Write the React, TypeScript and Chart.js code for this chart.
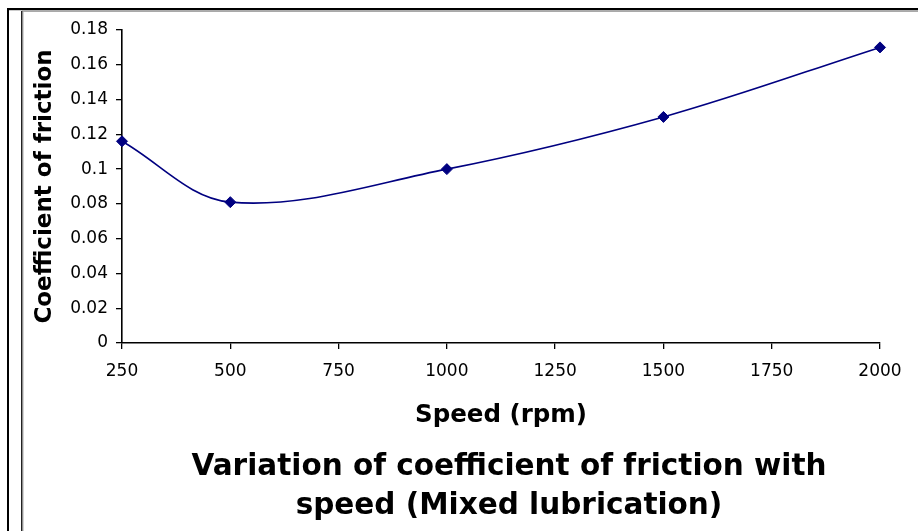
import React, { useEffect, useRef } from "react";
import { Chart, registerables } from "chart.js";

Chart.register(...registerables);

// ---- data ----
const speeds = [250, 500, 1000, 1500, 2000];
const frictionCoefficients = [0.116, 0.081, 0.1, 0.13, 0.17];
const xTickLabels = ["250", "500", "750", "1000", "1250", "1500", "1750", "2000"];
const yTickLabels = ["0", "0.02", "0.04", "0.06", "0.08", "0.1", "0.12", "0.14", "0.16", "0.18"];
const xAxisTitle = "Speed (rpm)";
const yAxisTitle = "Coefficient of friction";
const chartTitle = ["Variation of coefficient of friction with", "speed (Mixed lubrication)"];

const FONT = "'DejaVu Sans', sans-serif";
const NAVY = "#000080";

const framePlugin = {
  id: "frame",
  beforeDraw(chart: any) {
    const ctx = chart.ctx;
    const w = chart.width;
    const h = chart.height;
    ctx.save();
    ctx.fillStyle = "#000";
    ctx.fillRect(7, 8, w, 2.2);
    ctx.fillRect(7, 8, 2, h);
    ctx.fillStyle = "#a0a0a0";
    ctx.fillRect(22, 10.3, w, 1.6);
    ctx.fillStyle = "#222";
    ctx.fillRect(21, 11, 1.6, h);
    ctx.fillStyle = "#aaa";
    ctx.fillRect(22.6, 11, 0.9, h);
    ctx.restore();
  },
};

export default function App() {
  const canvasRef = useRef<HTMLCanvasElement | null>(null);

  useEffect(() => {
    if (!canvasRef.current) return;
    const chart = new Chart(canvasRef.current, {
      type: "line",
      data: {
        datasets: [
          {
            data: speeds.map((s, i) => ({ x: s, y: frictionCoefficients[i] })),
            borderColor: NAVY,
            backgroundColor: NAVY,
            borderWidth: 1.6,
            tension: 0.35,
            pointStyle: "rectRot",
            pointRadius: 5.5,
            pointBackgroundColor: NAVY,
            pointBorderColor: NAVY,
            pointBorderWidth: 1,
            clip: false,
            yAxisID: "y",
          } as any,
        ],
      },
      options: {
        responsive: false,
        animation: false,
        events: [],
        layout: { padding: { top: 30, right: 0, left: 0, bottom: 0 } },
        plugins: {
          legend: { display: false },
          tooltip: { enabled: false },
          title: {
            display: true,
            position: "bottom",
            text: chartTitle,
            color: "#000",
            font: { family: FONT, size: 29.5, weight: "bold", lineHeight: "39px" } as any,
            padding: { top: 0, bottom: 5 },
          },
        },
        scales: {
          x: {
            type: "linear",
            position: "bottom",
            min: 250,
            max: 2000,
            afterFit: (scale: any) => {
              scale.height = 105;
            },
            ticks: {
              stepSize: 250,
              color: "#000",
              padding: 12,
              maxRotation: 0,
              font: { family: FONT, size: 17 },
              callback: (_v: any, i: number) => xTickLabels[i],
            },
            grid: {
              drawOnChartArea: false,
              drawTicks: true,
              tickLength: 6,
              color: "#000",
              lineWidth: 1.3,
            },
            border: { display: true, color: "#000", width: 1.6 },
            title: {
              display: true,
              text: xAxisTitle,
              color: "#000",
              font: { family: FONT, size: 24.5, weight: "bold" },
              padding: { top: 0, bottom: 18 },
            },
          },
          y: {
            type: "linear",
            position: "left",
            min: 0,
            max: 0.18,
            afterFit: (scale: any) => {
              scale.width = 122;
            },
            ticks: {
              stepSize: 0.02,
              color: "#000",
              padding: 8,
              font: { family: FONT, size: 17 },
              callback: (_v: any, i: number) => yTickLabels[i],
            },
            grid: {
              drawOnChartArea: false,
              drawTicks: true,
              tickLength: 6,
              color: "#000",
              lineWidth: 1.3,
            },
            border: { display: true, color: "#000", width: 1.6 },
            title: {
              display: true,
              text: yAxisTitle,
              color: "#000",
              font: { family: FONT, size: 23, weight: "bold" },
              padding: { top: 31.5, bottom: 0 },
            },
          },
          spacer: {
            type: "linear",
            position: "right",
            display: false,
            afterFit: (scale: any) => {
              scale.width = 138;
            },
          },
        },
      },
      plugins: [framePlugin],
    });
    return () => chart.destroy();
  }, []);

  return (
    <div
      style={{
        position: "absolute",
        left: 0,
        top: 0,
        width: 918,
        height: 531,
        overflow: "hidden",
        background: "#fff",
      }}
    >
      <canvas ref={canvasRef} width={1018} height={531} />
    </div>
  );
}
